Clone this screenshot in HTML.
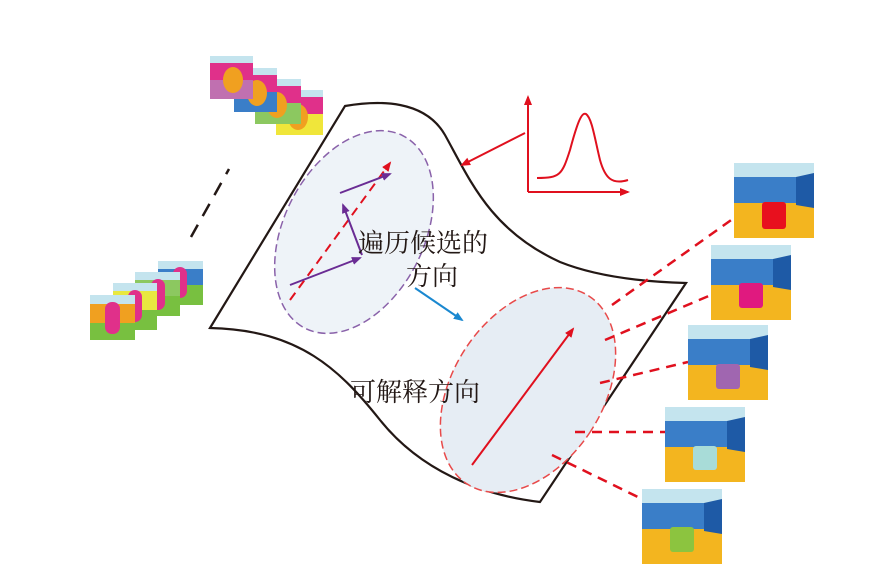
<!DOCTYPE html>
<html><head><meta charset="utf-8"><style>body{margin:0;background:#fff}svg{display:block}</style></head><body>
<svg width="880" height="577" viewBox="0 0 880 577" xmlns="http://www.w3.org/2000/svg">
<defs>
<marker id="mr" markerWidth="10" markerHeight="10" refX="8" refY="5" orient="auto" markerUnits="userSpaceOnUse"><path d="M0,1 L10,5 L0,9 z" fill="#e0101e"/></marker>
<marker id="mp" markerWidth="10" markerHeight="10" refX="8" refY="5" orient="auto" markerUnits="userSpaceOnUse"><path d="M0,1 L10,5 L0,9 z" fill="#6a2c94"/></marker>
<marker id="mb" markerWidth="10" markerHeight="10" refX="8" refY="5" orient="auto" markerUnits="userSpaceOnUse"><path d="M0,1 L10,5 L0,9 z" fill="#1a88d0"/></marker>
<g id="room"><rect width="80" height="75" fill="#3a7ec8"/><rect width="80" height="14" fill="#c4e4ee"/><rect y="40" width="80" height="35" fill="#f3b51f"/><path d="M62,14 L80,10 L80,45 L62,42z" fill="#1e5aa6"/></g>
</defs>
<path d="M345,106 C380,100 425,100 445,135 C470,180 490,230 560,262 C600,278 650,282 686,283 L540,502 C480,495 420,470 380,420 C340,370 300,330 210,328 Z" fill="#fff" stroke="#231815" stroke-width="2.2"/>
<ellipse cx="354" cy="232" rx="70" ry="108" transform="rotate(27 354 232)" fill="#eef3f8" stroke="#8a62aa" stroke-width="1.5" stroke-dasharray="8,4"/>
<ellipse cx="528" cy="390" rx="75" ry="112" transform="rotate(33 528 390)" fill="#e6edf4" stroke="#e84a4a" stroke-width="1.5" stroke-dasharray="8,4"/>
<line x1="290" y1="300" x2="390" y2="163" stroke="#e0101e" stroke-width="2" stroke-dasharray="9,6" marker-end="url(#mr)"/>
<line x1="290" y1="285" x2="360" y2="258" stroke="#6a2c94" stroke-width="2" marker-end="url(#mp)"/>
<line x1="340" y1="193" x2="390" y2="174" stroke="#6a2c94" stroke-width="2" marker-end="url(#mp)"/>
<line x1="362" y1="255" x2="343" y2="205" stroke="#6a2c94" stroke-width="2" marker-end="url(#mp)"/>
<line x1="472" y1="465" x2="573" y2="329" stroke="#e0101e" stroke-width="2" marker-end="url(#mr)"/>
<line x1="415" y1="288" x2="462" y2="320" stroke="#1a88d0" stroke-width="2" marker-end="url(#mb)"/>
<g font-family="'Liberation Serif','Noto Serif CJK SC',serif" font-size="26" fill="#231815">
<text x="358" y="252">遍历候选的</text><text x="406" y="285">方向</text><text x="350" y="401">可解释方向</text></g>
<line x1="528" y1="192" x2="528" y2="97" stroke="#e0101e" stroke-width="2" marker-end="url(#mr)"/>
<line x1="528" y1="192" x2="628" y2="192" stroke="#e0101e" stroke-width="2" marker-end="url(#mr)"/>
<path d="M537,178 C560,178 562,175 570,150 C578,120 582,112 586,114 C592,118 595,140 600,160 C605,178 612,185 628,180" fill="none" stroke="#e0101e" stroke-width="2"/>
<line x1="525" y1="133" x2="462" y2="165" stroke="#e0101e" stroke-width="2" marker-end="url(#mr)"/>
<line x1="191" y1="237" x2="229" y2="169" stroke="#231815" stroke-width="2.5" stroke-dasharray="14,10"/>
<g stroke="#e0101e" stroke-width="2.5" stroke-dasharray="10,7" fill="none">
<line x1="612" y1="305" x2="734" y2="218"/><line x1="605" y1="340" x2="711" y2="295"/><line x1="600" y1="383" x2="688" y2="362"/><line x1="575" y1="432" x2="665" y2="432"/><line x1="552" y1="455" x2="642" y2="499"/></g>
<use href="#room" x="734" y="163"/><rect x="762" y="202" width="24" height="27" rx="3" fill="#e8101e"/>
<use href="#room" x="711" y="245"/><rect x="739" y="283" width="24" height="25" rx="3" fill="#e0197f"/>
<use href="#room" x="688" y="325"/><rect x="716" y="364" width="24" height="25" rx="3" fill="#a066b0"/>
<use href="#room" x="665" y="407"/><rect x="693" y="446" width="24" height="24" rx="3" fill="#a8dcd8"/>
<use href="#room" x="642" y="489"/><rect x="670" y="527" width="24" height="25" rx="3" fill="#8cc43f"/>
<g>
<rect x="276" y="90" width="47" height="45" fill="#f0e63a"/><rect x="276" y="90" width="47" height="24" fill="#e0308a"/><rect x="276" y="90" width="47" height="7" fill="#c4e4ee"/><ellipse cx="298" cy="117" rx="10" ry="13" fill="#f0a020"/>
<rect x="255" y="79" width="46" height="45" fill="#8cc860"/><rect x="255" y="79" width="46" height="24" fill="#e0308a"/><rect x="255" y="79" width="46" height="7" fill="#c4e4ee"/><ellipse cx="277" cy="105" rx="10" ry="13" fill="#f0a020"/>
<rect x="234" y="68" width="43" height="44" fill="#3a7ec8"/><rect x="234" y="68" width="43" height="24" fill="#e0308a"/><rect x="234" y="68" width="43" height="7" fill="#c4e4ee"/><ellipse cx="257" cy="93" rx="10" ry="13" fill="#f0a020"/>
<rect x="210" y="56" width="43" height="43" fill="#c070b0"/><rect x="210" y="56" width="43" height="24" fill="#e0308a"/><rect x="210" y="56" width="43" height="7" fill="#c4e4ee"/><ellipse cx="233" cy="80" rx="10" ry="13" fill="#f0a020"/>
</g>
<g>
<rect x="158" y="261" width="45" height="44" fill="#78c040"/><rect x="158" y="261" width="45" height="24" fill="#3a7ec8"/><rect x="158" y="261" width="45" height="8" fill="#c4e4ee"/><rect x="173" y="267" width="14" height="31" rx="7" fill="#e0308a"/>
<rect x="135" y="272" width="45" height="44" fill="#78c040"/><rect x="135" y="272" width="45" height="24" fill="#8cc860"/><rect x="135" y="272" width="45" height="8" fill="#c4e4ee"/><rect x="151" y="279" width="14" height="31" rx="7" fill="#e0308a"/>
<rect x="113" y="283" width="44" height="47" fill="#78c040"/><rect x="113" y="283" width="44" height="27" fill="#e8e840"/><rect x="113" y="283" width="44" height="8" fill="#c4e4ee"/><rect x="128" y="290" width="14" height="32" rx="7" fill="#e0308a"/>
<rect x="90" y="295" width="45" height="45" fill="#78c040"/><rect x="90" y="295" width="45" height="28" fill="#f0a020"/><rect x="90" y="295" width="45" height="9" fill="#c4e4ee"/><rect x="105" y="302" width="15" height="32" rx="7" fill="#e0308a"/>
</g>
</svg>
</body></html>
